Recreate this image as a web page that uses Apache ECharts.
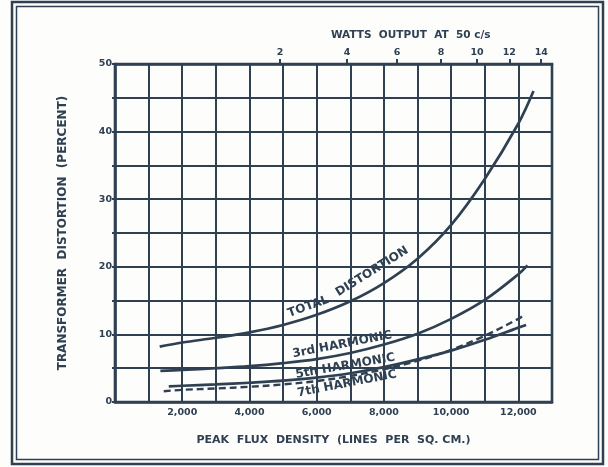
<!DOCTYPE html>
<html>
<head>
    <meta charset="utf-8">
    <title>Transformer distortion</title>
    <script src="https://cdn.jsdelivr.net/npm/echarts@6/dist/echarts.min.js"></script>
    <style>
        html, body { margin: 0; padding: 0; background: #fdfdfc; }
        #main { width: 608px; height: 467px; }
    </style>
</head>
<body>
    <div id="main"></div>
    <script>
        // values (flux in lines per sq. cm, distortion in %)
        var fluxTotal = [1330, 2000, 3000, 4000, 5000, 6000, 7000, 8000, 9000, 10000, 11000, 12000, 12450];
        var total = [8.2, 8.8, 9.5, 10.3, 11.4, 12.9, 14.9, 17.6, 21.2, 26.2, 33.0, 41.2, 46.0];

        var flux3rd = [1350, 2000, 3000, 4000, 5000, 6000, 7000, 8000, 9000, 10000, 11000, 12000, 12270];
        var third = [4.6, 4.75, 5.0, 5.3, 5.75, 6.35, 7.25, 8.5, 10.1, 12.3, 15.1, 18.9, 20.2];

        var flux5th = [1600, 2000, 3000, 4000, 5000, 6000, 7000, 8000, 9000, 10000, 11000, 12000, 12230];
        var fifth = [2.3, 2.4, 2.6, 2.85, 3.15, 3.6, 4.25, 5.15, 6.3, 7.6, 9.2, 11.0, 11.4];

        var flux7th = [1450, 2000, 3000, 4000, 5000, 6000, 7000, 8000, 9000, 10000, 11000, 12000, 12150];
        var seventh = [1.6, 1.8, 2.0, 2.25, 2.6, 3.1, 3.85, 4.85, 6.1, 7.7, 9.8, 12.3, 12.8];

        // top scale: watts output at 50 c/s, placed at the flux it corresponds to
        var wattsPos = [4910, 6905, 8390, 9700, 10770, 11730, 12680];
        var wattsLabels = ['2', '4', '6', '8', '10', '12', '14'];

        var ink = '#2f4052';
        var font = 'DejaVu Sans, Verdana, sans-serif';

        function zip(xs, ys) {
            var out = [];
            for (var i = 0; i < xs.length; i++) out.push([xs[i], ys[i]]);
            return out;
        }
        function commas(v) {
            return String(v).replace(/\B(?=(\d{3})+(?!\d))/g, ',');
        }

        var myChart = echarts.init(document.getElementById('main'), null, { renderer: 'canvas' });

        var lineStyle = { color: ink, width: 2.7 };

        option = {
            backgroundColor: '#fdfdfc',
            animation: false,
            title: {
                text: 'WATTS  OUTPUT  AT  50 c/s',
                left: 326,
                top: 25,
                textStyle: { color: ink, fontFamily: font, fontWeight: 'bold', fontSize: 10.5 }
            },
            grid: {
                left: 115, right: 56, top: 64, bottom: 65,
                show: true, borderColor: ink, borderWidth: 2.6,
                outerBoundsMode: 'none'
            },
            xAxis: [{
                type: 'value',
                min: 0, max: 13000, interval: 1000,
                position: 'bottom',
                axisLine: { show: true, lineStyle: { color: ink, width: 2.6 } },
                axisTick: { show: false },
                splitLine: { show: true, lineStyle: { color: ink, width: 2 } },
                axisLabel: {
                    margin: 6,
                    color: ink, fontFamily: font, fontWeight: 'bold', fontSize: 9.5,
                    formatter: function (v) {
                        return (v > 0 && v < 13000 && v % 2000 === 0) ? commas(v) : '';
                    }
                },
                name: 'PEAK  FLUX  DENSITY  (LINES  PER  SQ. CM.)',
                nameLocation: 'middle',
                nameGap: 33,
                nameTextStyle: { color: ink, fontFamily: font, fontWeight: 'bold', fontSize: 11 }
            }, {
                type: 'value',
                min: 0, max: 13000,
                position: 'top',
                axisLine: { show: true, lineStyle: { color: ink, width: 2.6 } },
                splitLine: { show: false },
                axisTick: {
                    show: true, length: 5, customValues: wattsPos,
                    lineStyle: { color: ink, width: 2 }
                },
                axisLabel: {
                    margin: 6, customValues: wattsPos,
                    color: ink, fontFamily: font, fontWeight: 'bold', fontSize: 9.5,
                    formatter: function (v) {
                        var i = wattsPos.indexOf(v);
                        return i >= 0 ? wattsLabels[i] : '';
                    }
                }
            }],
            yAxis: {
                type: 'value',
                min: 0, max: 50, interval: 5,
                axisLine: { show: true, lineStyle: { color: ink, width: 2.6 } },
                axisTick: { show: true, length: 3, lineStyle: { color: ink, width: 2 } },
                splitLine: { show: true, lineStyle: { color: ink, width: 2 } },
                axisLabel: {
                    margin: 3,
                    color: ink, fontFamily: font, fontWeight: 'bold', fontSize: 9.5,
                    formatter: function (v) { return v % 10 === 0 ? String(v) : ''; }
                },
                name: 'TRANSFORMER  DISTORTION  (PERCENT)',
                nameLocation: 'middle',
                nameGap: 46,
                nameTextStyle: { color: ink, fontFamily: font, fontWeight: 'bold', fontSize: 12 }
            },
            series: [
                { name: 'Total distortion', type: 'line', smooth: 0.35, showSymbol: false, data: zip(fluxTotal, total), lineStyle: lineStyle },
                { name: '3rd harmonic', type: 'line', smooth: 0.35, showSymbol: false, data: zip(flux3rd, third), lineStyle: lineStyle },
                { name: '5th harmonic', type: 'line', smooth: 0.35, showSymbol: false, data: zip(flux5th, fifth), lineStyle: lineStyle },
                {
                    name: '7th harmonic', type: 'line', smooth: 0.35, showSymbol: false, data: zip(flux7th, seventh),
                    lineStyle: { color: ink, width: 2.4, type: [7, 4] }
                }
            ]
        };
        myChart.setOption(option);

        // labels written along the curves, anchored in data units
        var curveLabels = [
            { text: 'TOTAL', at: [5750, 14.1], angle: 20 },
            { text: 'DISTORTION', at: [7650, 19.3], angle: 32 },
            { text: '3rd HARMONIC', at: [6760, 8.5], angle: 11 },
            { text: '5th HARMONIC', at: [6850, 5.3], angle: 10 },
            { text: '7th HARMONIC', at: [6900, 2.7], angle: 11 }
        ];
        var graphics = curveLabels.map(function (l) {
            var p = myChart.convertToPixel({ xAxisIndex: 0, yAxisIndex: 0 }, l.at);
            return {
                type: 'text', x: p[0], y: p[1], rotation: l.angle * Math.PI / 180,
                style: {
                    text: l.text, align: 'center', verticalAlign: 'middle',
                    fill: ink, font: 'bold 12px ' + font
                }
            };
        });
        // double frame of the scanned page
        graphics.push({
            type: 'rect', shape: { x: 12, y: 2, width: 591, height: 462 },
            style: { fill: null, stroke: ink, lineWidth: 2.5 }
        });
        graphics.push({
            type: 'rect', shape: { x: 16.5, y: 6.5, width: 582, height: 453 },
            style: { fill: null, stroke: ink, lineWidth: 1.5 }
        });
        myChart.setOption({ graphic: graphics });
    </script>
</body>
</html>
